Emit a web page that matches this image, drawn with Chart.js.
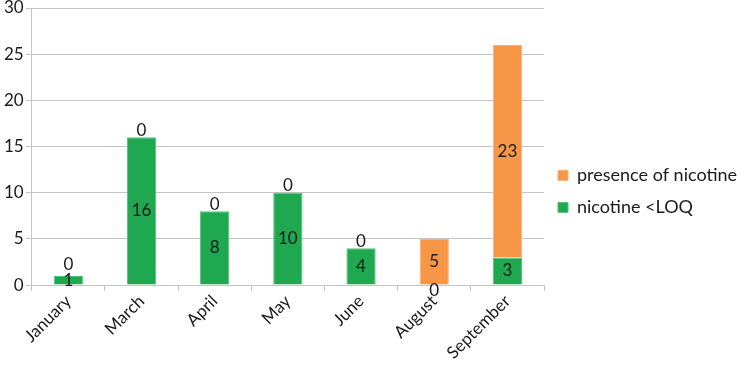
<!DOCTYPE html>
<html>
<head>
<meta charset="utf-8">
<script src="https://cdn.jsdelivr.net/npm/chart.js@4.4.1/dist/chart.umd.min.js"></script>
<style>
  html, body { margin: 0; padding: 0; background: #fff; }
  #wrap { width: 742px; height: 374px; }
</style>
</head>
<body>
<div id="wrap"><canvas id="chart" width="742" height="374"></canvas></div>
<script>
const months = ['January', 'March', 'April', 'May', 'June', 'August', 'September'];
const belowLoq = [1, 16, 8, 10, 4, 0, 3];
const presence = [0, 0, 0, 0, 0, 5, 23];
const yTicks = [0, 5, 10, 15, 20, 25, 30];

const green = '#1fa84f';
const orange = '#f79646';
const gridGrey = '#c4c4c4';
const fontFamily = 'Lato, "Open Sans", sans-serif';

// values written on each segment, zeros pushed off the edge like Excel does
const segmentLabels = {
    id: 'segmentLabels',
    afterDatasetsDraw(chart) {
        const ctx = chart.ctx;
        ctx.save();
        ctx.font = '17px ' + fontFamily;
        ctx.fillStyle = '#1a1a1a';
        ctx.textAlign = 'center';
        ctx.textBaseline = 'middle';
        const bottom = chart.getDatasetMeta(0).data;
        chart.data.datasets.forEach((ds, di) => {
            chart.getDatasetMeta(di).data.forEach((bar, i) => {
                const v = ds.data[i];
                let y = (bar.y + bar.base) / 2;
                if (v === 0) {
                    if (di === 0) {
                        y = bar.base + 5;
                    } else {
                        const under = bottom[i];
                        y = Math.min(bar.y - 7, (under.y + under.base) / 2 - 16);
                    }
                }
                ctx.fillText(String(v), bar.x, y);
            });
        });
        ctx.restore();
    }
};

new Chart(document.getElementById('chart'), {
    type: 'bar',
    data: {
        labels: months,
        datasets: [
            {
                label: 'nicotine <LOQ',
                data: belowLoq,
                backgroundColor: green,
                borderColor: '#4cc576',
                borderWidth: 1
            },
            {
                label: 'presence of nicotine',
                data: presence,
                backgroundColor: orange,
                borderColor: '#f9b07a',
                borderWidth: 1
            }
        ]
    },
    options: {
        responsive: false,
        animation: false,
        layout: { padding: { left: 2, right: 0, top: -7, bottom: 11 } },
        datasets: {
            bar: { categoryPercentage: 1, barPercentage: 0.4 }
        },
        scales: {
            x: {
                stacked: true,
                grid: {
                    display: true,
                    drawOnChartArea: false,
                    offset: true,
                    color: gridGrey,
                    tickLength: 6
                },
                border: { color: gridGrey },
                ticks: {
                    color: '#1a1a1a',
                    font: { family: fontFamily, size: 17 },
                    maxRotation: 45,
                    minRotation: 45,
                    padding: 0
                }
            },
            y: {
                stacked: true,
                min: 0,
                max: 30,
                afterBuildTicks(axis) {
                    axis.ticks = yTicks.map(v => ({ value: v }));
                },
                // let the top gridline sit close to the edge like the original
                afterFit(axis) {
                    axis.paddingTop = 8;
                },
                grid: { color: gridGrey, tickLength: 6 },
                border: { color: gridGrey },
                ticks: {
                    color: '#1a1a1a',
                    font: { family: fontFamily, size: 17 },
                    padding: 2
                }
            }
        },
        plugins: {
            legend: {
                position: 'right',
                reverse: true,
                maxWidth: 198,
                title: {
                    display: true,
                    text: ' ',
                    font: { size: 14 },
                    padding: { top: 10, bottom: 0 }
                },
                labels: {
                    boxWidth: 10,
                    boxHeight: 10,
                    padding: 14,
                    color: '#1a1a1a',
                    font: { family: fontFamily, size: 18 }
                }
            },
            tooltip: { enabled: false }
        }
    },
    plugins: [segmentLabels]
});
</script>
</body>
</html>
